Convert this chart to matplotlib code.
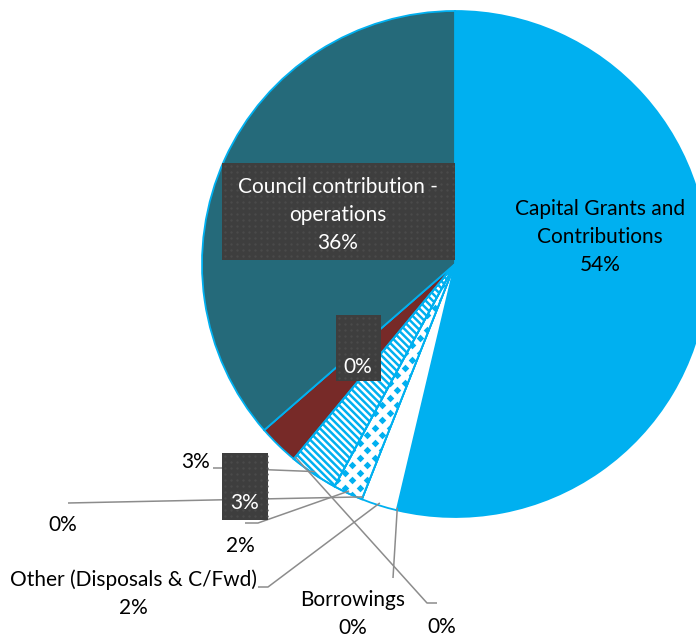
import numpy as np
import matplotlib
matplotlib.use("Agg")
import matplotlib.pyplot as plt
from matplotlib.patches import Rectangle, Wedge
from matplotlib.collections import LineCollection

plt.rcParams['font.family'] = ['Lato', 'DejaVu Sans']

# ---- data ----
categories = ["Capital Grants and\nContributions", "Borrowings", "Other (Disposals & C/Fwd)",
              "", "", "", "", "", "", "Council contribution -\noperations"]
shares = [53.7, 0.0, 2.3, 0.0, 1.9, 3.1, 0.0, 2.6, 0.0, 36.4]

W, H = 696, 637
fig = plt.figure(figsize=(W / 100, H / 100), dpi=100)
ax = fig.add_axes([0, 0, 1, 1])

BLUE = '#00B0F0'
TEAL = '#256A7A'
RED = '#772A28'
BOX = '#3E3E3E'
LEAD = '#8C8C8C'
faces = [BLUE, 'white', 'white', 'white', 'white', 'white', 'white', RED, 'white', TEAL]
textures = [None, None, None, None, 'diamond', 'stripes', None, None, None, None]

cx, cy, R = 455, H - 264, 253
wedges, _ = ax.pie(shares, startangle=90, counterclock=False, center=(cx, cy), radius=R,
                   colors=faces, wedgeprops=dict(edgecolor=BLUE, linewidth=1.3))

ax.set_xlim(0, W)
ax.set_ylim(0, H)
ax.set_aspect('equal')
ax.axis('off')

# pattern fills (decorative textures clipped to their wedge)
gstep = 7.5
gx = np.arange(cx - R, cx + 10, gstep)
gy = np.arange(cy - R - 8, cy + 10, gstep)
for w, tex in zip(wedges, textures):
    if tex is None:
        continue
    if tex == 'stripes':
        step = 5.0 * np.sqrt(2)
        cs = np.arange(cx + cy - 3 * R, cx + cy + 2 * R, step)
        segs = [[(cx - R - 20, c - (cx - R - 20)), (cx + 20, c - (cx + 20))] for c in cs]
        lc = LineCollection(segs, colors=BLUE, linewidths=1.8, zorder=2)
        ax.add_collection(lc)
        lc.set_clip_path(w)
    else:
        XX, YY = np.meshgrid(gx, gy)
        ii, jj = np.meshgrid(np.arange(len(gx)), np.arange(len(gy)))
        m = ((ii + jj) % 2) == 0
        sc = ax.scatter(XX[m], YY[m], marker='D', s=15, color=BLUE, linewidths=0, zorder=2)
        sc.set_clip_path(w)
    ax.add_patch(Wedge((cx, cy), R, w.theta1, w.theta2, fill=False,
                       edgecolor=BLUE, linewidth=1.3, zorder=2.5))


def Y(y):
    return H - y


def anchor(i, f=0.99):
    w = wedges[i]
    a = np.deg2rad((w.theta1 + w.theta2) / 2)
    return cx + f * R * np.cos(a), cy + f * R * np.sin(a)


def pct(i):
    return f"{round(shares[i])}%"


FS = 15
tk = dict(fontsize=FS, ha='center', va='center', linespacing=1.5)

# leader lines (wedge index, elbow points in pixel coords from top)
leaders = [
    (1, [(393, 578)]),
    (2, [(268, 587), (258, 587)]),
    (3, [(68, 503)]),
    (4, [(258, 523), (245, 523)]),
    (5, [(223, 468), (213, 468)]),
    (6, [(427, 603), (437, 603)]),
]
for i, pts in leaders:
    ax0, ay0 = anchor(i)
    xs = [ax0] + [p[0] for p in pts]
    ys = [ay0] + [Y(p[1]) for p in pts]
    ax.plot(xs, ys, color=LEAD, lw=1.1, zorder=3, solid_capstyle='butt')

# labels outside
ax.text(600, Y(237), f"{categories[0]}\n{pct(0)}", color='black', zorder=6, **tk)
ax.text(353, Y(614), f"{categories[1]}\n{pct(1)}", color='black', zorder=6, **tk)
ax.text(133, Y(594), f"{categories[2]}\n{pct(2)}", color='black', zorder=6, **tk)
ax.text(63, Y(525), pct(3), color='black', zorder=6, **tk)
ax.text(240, Y(546), pct(4), color='black', zorder=6, **tk)
ax.text(196, Y(462), pct(5), color='black', zorder=6, **tk)
ax.text(442, Y(627), pct(6), color='black', zorder=6, **tk)

# dark boxed labels
boxes = [
    (9, (222, 163, 455, 260), (338, 215), f"{categories[9]}\n{pct(9)}"),
    (8, (336, 315, 381, 381), (358, 367), pct(8)),
    (7, (222, 453, 268, 520), (245, 503), pct(7)),
]
for i, (x0, y0, x1, y1), (tx, ty), txt in boxes:
    rect = Rectangle((x0, Y(y1)), x1 - x0, y1 - y0, facecolor=BOX,
                     edgecolor='none', zorder=5)
    ax.add_patch(rect)
    dx = np.arange(x0 + 3, x1, 6.0)
    dy = np.arange(y0 + 3, y1, 6.0)
    DX, DY = np.meshgrid(dx, dy)
    dots = ax.scatter(DX.ravel(), Y(DY.ravel()), s=3, color='#4A4A4A', linewidths=0, zorder=5.2)
    dots.set_clip_path(rect)
    ax.text(tx, Y(ty), txt, color='white', zorder=6, **tk)

fig.savefig('out.png', dpi=100)
